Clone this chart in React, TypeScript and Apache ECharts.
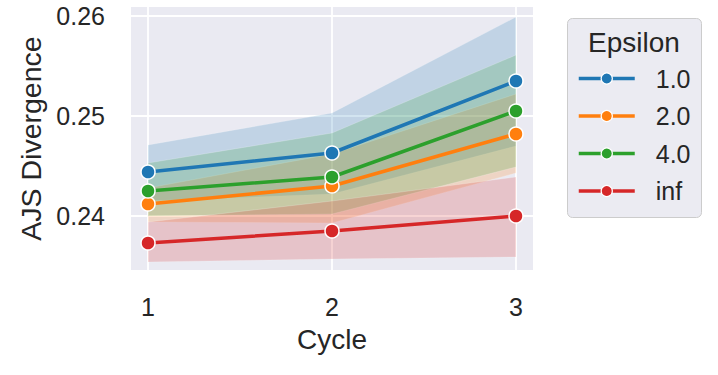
import React, { useEffect, useRef } from "react";
import * as echarts from "echarts";

const cycles = [1, 2, 3];
const epsilons = ["1.0", "2.0", "4.0", "inf"];
const colors = ["#1f77b4", "#ff7f0e", "#2ca02c", "#d62728"];
const bandColors = [
  "rgba(31,119,180,0.2)",
  "rgba(255,127,14,0.2)",
  "rgba(44,160,44,0.2)",
  "rgba(214,39,40,0.2)",
];

const meanEps1 = [0.2444, 0.2463, 0.2535];
const meanEps2 = [0.2412, 0.2430, 0.2482];
const meanEps4 = [0.2425, 0.2439, 0.2505];
const meanInf = [0.2373, 0.2385, 0.2400];

const upperEps1 = [0.2471, 0.2503, 0.2599];
const lowerEps1 = [0.2415, 0.2422, 0.2470];
const upperEps2 = [0.2428, 0.2462, 0.2522];
const lowerEps2 = [0.2394, 0.2393, 0.2443];
const upperEps4 = [0.2453, 0.2483, 0.2561];
const lowerEps4 = [0.2400, 0.2402, 0.2449];
const upperInf = [0.2394, 0.2415, 0.2439];
const lowerInf = [0.2354, 0.2357, 0.2359];

const means = [meanEps1, meanEps2, meanEps4, meanInf];
const uppers = [upperEps1, upperEps2, upperEps4, upperInf];
const lowers = [lowerEps1, lowerEps2, lowerEps4, lowerInf];

const yTicks = [0.24, 0.25, 0.26];
const FONT = "Liberation Sans, Arial, sans-serif";
const TXT = "#262626";

export default function App() {
  const ref = useRef<HTMLDivElement>(null);
  useEffect(() => {
    if (!ref.current) return;
    const chart = echarts.init(ref.current, null, { renderer: "svg" });

    const bandSeries = epsilons.map((eps, k) => ({
      type: "custom",
      name: eps + " band",
      z: 1,
      silent: true,
      data: cycles.map((c, i) => [c, uppers[k][i], lowers[k][i]]),
      encode: { x: 0, y: [1, 2] },
      renderItem: (params: any, api: any) => {
        if (params.dataIndex !== 0) return null;
        const up = cycles.map((c, i) => api.coord([c, uppers[k][i]]));
        const lo = cycles.map((c, i) => api.coord([c, lowers[k][i]])).reverse();
        return {
          type: "polygon",
          shape: { points: up.concat(lo) },
          style: { fill: bandColors[k], stroke: "rgba(255,255,255,0.25)", lineWidth: 0.8 },
        };
      },
    }));

    const lineSeries = epsilons.map((eps, k) => ({
      type: "line",
      name: eps,
      z: 3,
      data: cycles.map((c, i) => [c, means[k][i]]),
      symbol: "circle",
      symbolSize: 14,
      lineStyle: { color: colors[k], width: 3.5 },
      itemStyle: { color: colors[k], borderColor: "#ffffff", borderWidth: 1.5 },
    }));

    chart.setOption({
      animation: false,
      grid: {
        left: 131,
        right: 185,
        top: 7,
        bottom: 105,
        show: true,
        backgroundColor: "#EAEAF2",
        borderWidth: 0,
      },
      xAxis: {
        type: "value",
        min: 0.9075,
        max: 3.0925,
        name: "Cycle",
        nameLocation: "middle",
        nameGap: 55,
        nameTextStyle: { fontSize: 28, color: TXT, fontFamily: FONT },
        axisLine: { show: false },
        axisTick: { show: false, customValues: cycles },
        axisLabel: {
          customValues: cycles,
          fontSize: 25,
          color: TXT,
          fontFamily: FONT,
          margin: 24,
        },
        splitLine: { show: true, lineStyle: { color: "#ffffff", width: 1.8 } },
      },
      yAxis: {
        type: "value",
        min: 0.2346,
        max: 0.2609,
        name: "AJS Divergence",
        nameLocation: "middle",
        nameGap: 86,
        nameTextStyle: { fontSize: 28.5, color: TXT, fontFamily: FONT },
        axisLine: { show: false },
        axisTick: { show: false, customValues: yTicks },
        axisLabel: {
          customValues: yTicks,
          fontSize: 25,
          color: TXT,
          fontFamily: FONT,
          margin: 26,
          formatter: (v: number) => v.toFixed(2),
        },
        splitLine: { show: true, lineStyle: { color: "#ffffff", width: 1.8 } },
      },
      legend: {
        data: epsilons,
        orient: "vertical",
        left: 577,
        top: 66,
        padding: 0,
        itemWidth: 56,
        itemHeight: 14,
        itemGap: 12.5,
        lineStyle: { width: 3.5 },
        itemStyle: { borderColor: "#ffffff", borderWidth: 1.2 },
        textStyle: {
          fontSize: 25,
          lineHeight: 25,
          color: TXT,
          fontFamily: FONT,
          padding: [0, 0, 0, 16],
        },
      },
      graphic: [
        {
          type: "rect",
          z: 0,
          shape: { x: 567.5, y: 18.5, width: 134, height: 199, r: 5 },
          style: { fill: "#EBEBF2", stroke: "#CCCCCC", lineWidth: 1 },
        },
        {
          type: "text",
          z: 1,
          x: 634,
          y: 42,
          style: {
            text: "Epsilon",
            fontSize: 28,
            fontFamily: FONT,
            fill: TXT,
            align: "center",
            verticalAlign: "middle",
          },
        },
      ],
      series: [...bandSeries, ...lineSeries],
    });
    return () => chart.dispose();
  }, []);
  return (
    <div
      ref={ref}
      style={{ position: "fixed", left: 0, top: 0, width: 718, height: 375, background: "#ffffff" }}
    />
  );
}
